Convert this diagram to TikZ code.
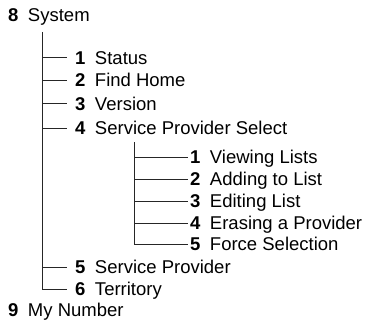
\documentclass[tikz,border=0pt]{standalone}
\usepackage{fontspec}
\setmainfont{Liberation Sans}
\usetikzlibrary{positioning}

\newcommand{\menuentry}[2]{\textbf{#1}\hspace{9.5pt}#2}

\begin{document}
\begin{tikzpicture}[x=1pt,y=-1pt,
    item/.style={anchor=west, inner sep=0pt, text height=13.2pt, text depth=0pt, font=\fontsize{18.5}{20}\selectfont},
    branch/.style={line width=0.9pt, draw=black!85}
]
    \useasboundingbox (0,0) rectangle (367,321);

    % --- top level ---
    \node[item] (sys) at (8,15) {\menuentry{8}{System}};
    \node[item] (mn) at (8,310) {\menuentry{9}{My Number}};

    % --- System submenu ---
    \node[item] (st) at (75,57.5) {\menuentry{1}{Status}};
    \node[item] (fh) at (75,80) {\menuentry{2}{Find Home}};
    \node[item] (ver) at (75,103.5) {\menuentry{3}{Version}};
    \node[item] (sps) at (75,128) {\menuentry{4}{Service Provider Select}};
    \node[item] (sp) at (75,267) {\menuentry{5}{Service Provider}};
    \node[item] (ter) at (75,289) {\menuentry{6}{Territory}};

    % --- Service Provider Select submenu ---
    \node[item] (vl) at (190,157) {\menuentry{1}{Viewing Lists}};
    \node[item] (al) at (190,179) {\menuentry{2}{Adding to List}};
    \node[item] (el) at (190,201) {\menuentry{3}{Editing List}};
    \node[item] (ep) at (190,223) {\menuentry{4}{Erasing a Provider}};
    \node[item] (fs) at (190,244) {\menuentry{5}{Force Selection}};

    % --- tree lines ---
    \coordinate (trunk) at (42,32);
    \coordinate (subtrunk) at (134,142);
    \draw[branch] (trunk) |- ([xshift=-8pt]ter.west);
    \foreach \n in {st,fh,ver,sps,sp}
        \draw[branch] (trunk |- \n.west) -- ([xshift=-8pt]\n.west);
    \draw[branch] (subtrunk) |- ([xshift=-2pt]fs.west);
    \foreach \n in {vl,al,el,ep}
        \draw[branch] (subtrunk |- \n.west) -- ([xshift=-2pt]\n.west);
\end{tikzpicture}
\end{document}
